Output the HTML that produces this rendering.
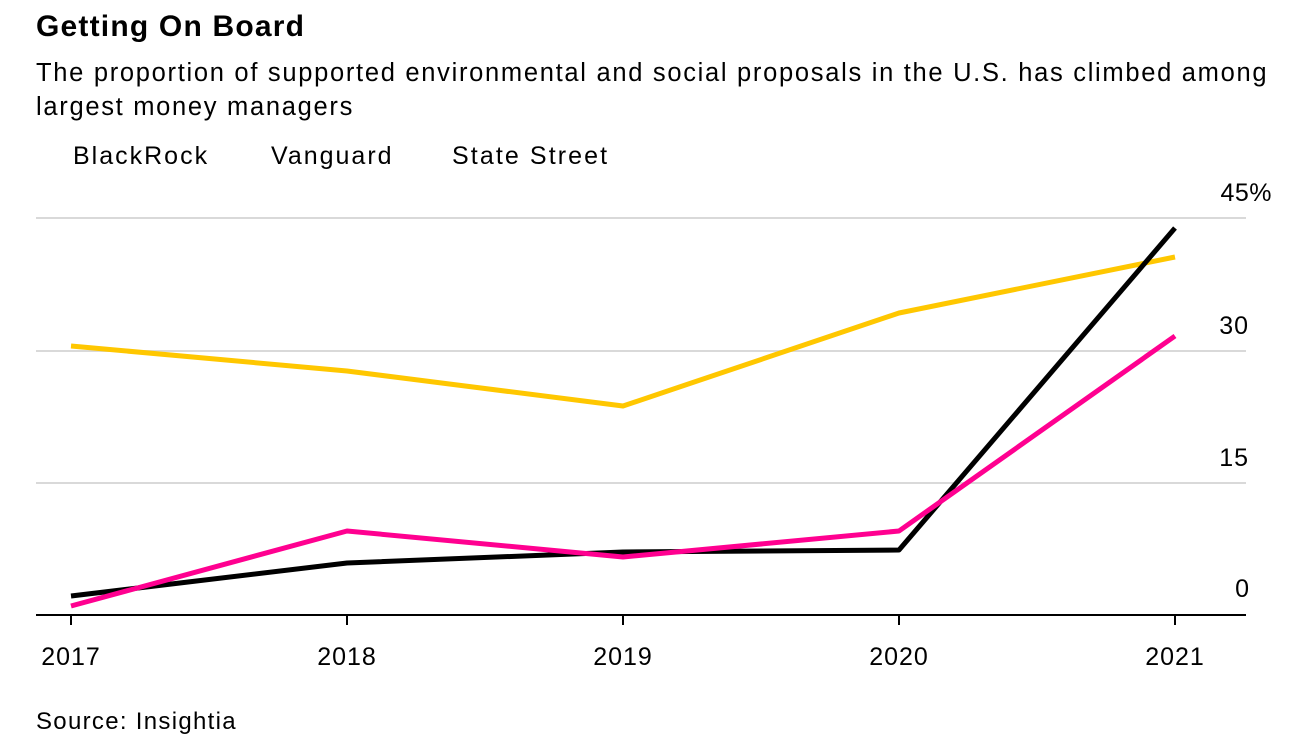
<!DOCTYPE html>
<html><head><meta charset="utf-8"><style>
body{margin:0;width:1300px;height:745px;background:#fff;overflow:hidden;font-family:"Liberation Sans",sans-serif;color:#000}
.t{position:absolute;white-space:nowrap}
</style></head><body>
<div class="t" style="left:36px;top:10px;font-size:30px;font-weight:bold;letter-spacing:1.2px">Getting On Board</div>
<div class="t" style="left:36px;top:56px;font-size:25.5px;line-height:34px;white-space:normal;width:1250px;letter-spacing:1.7px">The proportion of supported environmental and social proposals in the U.S. has climbed among largest money managers</div>
<div class="t" style="left:73px;top:142px;font-size:25px;letter-spacing:2px">BlackRock</div>
<div class="t" style="left:271px;top:142px;font-size:25px;letter-spacing:2px">Vanguard</div>
<div class="t" style="left:452px;top:142px;font-size:25px;letter-spacing:2.1px">State Street</div>
<svg width="1300" height="745" style="position:absolute;left:0;top:0">
<g stroke="#d9d9d9" stroke-width="2">
<line x1="36" y1="218" x2="1246" y2="218"/><line x1="36" y1="351" x2="1246" y2="351"/><line x1="36" y1="483" x2="1246" y2="483"/>
</g>
<line x1="36" y1="615" x2="1246" y2="615" stroke="#000" stroke-width="2"/>
<g stroke="#000" stroke-width="2">
<line x1="71" y1="615" x2="71" y2="625"/><line x1="347" y1="615" x2="347" y2="625"/><line x1="623" y1="615" x2="623" y2="625"/><line x1="899" y1="615" x2="899" y2="625"/><line x1="1175" y1="615" x2="1175" y2="625"/>
</g>
<g fill="none" stroke-width="5" stroke-linejoin="round">
<polyline stroke="#ffc700" points="71,346 347,371 623,406 899,313 1175,257"/>
<polyline stroke="#000" points="71,596 347,563 623,552 899,550 1175,228"/>
<polyline stroke="#ff0090" points="71,606 347,531 623,557 899,531 1175,336"/>
</g>
<g font-family="Liberation Sans, sans-serif" font-size="25" fill="#000">
<text x="1272" y="201" text-anchor="end" letter-spacing="0.5">45%</text>
<text x="1249" y="334" text-anchor="end" letter-spacing="1">30</text>
<text x="1249" y="466" text-anchor="end" letter-spacing="1">15</text>
<text x="1249" y="597" text-anchor="end">0</text>
<g letter-spacing="1">
<text x="71" y="665" text-anchor="middle">2017</text>
<text x="347" y="665" text-anchor="middle">2018</text>
<text x="623" y="665" text-anchor="middle">2019</text>
<text x="899" y="665" text-anchor="middle">2020</text>
<text x="1175" y="665" text-anchor="middle">2021</text>
</g>
<text x="36" y="729" font-size="24" letter-spacing="1.3">Source: Insightia</text>
</g>
</svg>
</body></html>
